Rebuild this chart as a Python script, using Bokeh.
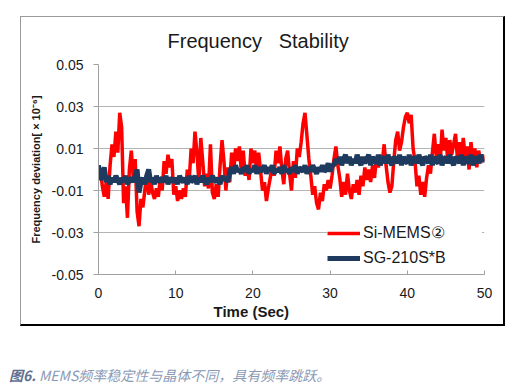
from bokeh.plotting import figure
from bokeh.models import (Legend, LegendItem, FixedTicker, NumeralTickFormatter, Range1d,
                          ColumnDataSource, Title, Div)
from bokeh.layouts import column
from bokeh.embed import file_html
from bokeh.resources import INLINE

# ---------------- data (values in units of 0.001, one sample every 0.25 s) ----------------
sample_step_s = 0.25
si_mems_milli = [
    -3, 0, -8, -13, -6, -14, 2, 12, 6, 18, 8, 27, 20, -16, -8, -23, 0, 9, -4, 5,
    -20, -27, -14, -18, -10, -2, -12, -5, -11, -14, -9, -13, -4, -10, 4, -2, 7, 1, 5, -12,
    -8, -15, -10, -14, -9, -13, 0, -5, 10, 3, 18, 8, -6, 15, 4, -8, -2, -9, 12, -11,
    -14, -7, -13, 2, 14, 4, -10, 1, -6, 8, -2, 10, 4, 11, -1, 9, -3, 2, -5, 10,
    3, 9, -2, 8, -1, -10, -6, -15, -9, -4, 2, -3, 9, 3, 11, 0, -7, 5, 9, -2,
    -10, 4, -4, 10, 6, 13, 22, 27, 16, 5, -3, -12, -8, -16, -19, -11, -15, -7, -10, -5,
    -9, -3, 5, 11, 2, -4, -13, -6, -12, -2, -10, -14, -7, -11, -5, -12, -3, -8, 1, -5,
    0, -6, 2, -4, 5, 1, 7, 3, 12, 2, -6, -11, -8, 4, 14, 18, 9, 13, 20, 25,
    27, 22, 26, 10, 4, -8, -3, -12, -6, -13, -4, 2, -2, 8, 17, 6, 12, 3, 19, 9,
    15, 4, 14, 7, 12, 17, 5, 13, 3, 15, 6, 11, 0, 13, 4, 10, 1, 9, 3, 7,
    4,
]
sg210_milli = [
    2, -5, -3, 1, -6, -3, -7, -4, -6, -3,
    -5, -7, -4, -6, -3, -7, -5, -4, -6, -3,
    0, -11, -6, -4, -7, -3, 0, -6, -4, -7,
    -3, -6, -5, -4, -6, -3, -7, -4, -5, -6,
    -4, -7, -3, -5, -6, -4, -7, -3, -6, -5,
    -3, -7, -4, -6, -3, -5, -7, -4, -6, -3,
    -5, -6, -4, -7, -3, -5, -4, -6,
    -1, 1, -2, 2, -1, 0, -2, 1, -1, 2,
    -2, 0, -1, 2, -2, 1, -1, 0, 2, -2,
    1, -1, 2, -2, 0, -1, 1, -2, 2, -1,
    0, -2, 1, -1, 2, -2, 1, 0, -1, 2,
    -2, 1, -1, 2, 0, -2, 1, -1, 2, -1,
    0, 3, -1, 2,
    2, 5, 3, 6, 2, 5, 7, 3, 6, 2,
    5, 3, 7, 4, 2, 6, 3, 5, 7, 2,
    6, 4, 3, 7, 2, 5, 6, 3, 7, 4,
    2, 6, 5, 3, 7, 2, 6, 4, 3, 7,
    2, 5, 6, 3, 7, 4, 2, 6, 5, 3,
    7, 2, 6, 4, 3, 7, 2, 5, 6, 3,
    7, 4, 2, 6, 5, 3, 7, 2, 6, 4,
    3, 7, 2, 5, 6, 3, 7, 4, 5,
]
series_names = ["Si-MEMS\u2461", "SG-210S*B"]
y_ticks = [-0.05, -0.03, -0.01, 0.01, 0.03, 0.05]
x_ticks = [0, 10, 20, 30, 40, 50]
title_text = "Frequency\u00a0\u00a0\u00a0Stability"
x_label = "Time (Sec)"
y_label = "Frequency deviation[ \u00d7 10\u207b\u2076]"
caption_bold = "图6."
caption_rest = " MEMS频率稳定性与晶体不同，具有频率跳跃。"

time_s = [i * sample_step_s for i in range(len(si_mems_milli))]
si_mems = [v / 1000 for v in si_mems_milli]
sg210 = [v / 1000 for v in sg210_milli]

W, H = 485, 310
FONT = "Liberation Sans"

p = figure(width=W, height=H, x_range=Range1d(0, 50), y_range=Range1d(-0.05, 0.05),
           output_backend="svg", toolbar_location=None,
           min_border_left=77, min_border_right=22, min_border_top=47, min_border_bottom=53)
p.background_fill_color = "white"
p.border_fill_color = "white"
p.outline_line_color = None
p.margin = (16, 0, 0, 20)
p.styles = {"border-left": "1px solid #9a9a9a", "border-top": "1px solid #9a9a9a",
            "border-right": "2px solid #000000", "border-bottom": "2px solid #000000"}

# title
p.title.text = title_text
p.title.align = "left"
p.title.vertical_align = "top"
p.title.offset = 69
p.title.text_font = FONT
p.title.text_font_size = "20px"
p.title.text_font_style = "normal"
p.title.text_color = "#1a1a1a"
p.title.standoff = 22

src = ColumnDataSource(dict(t=time_s, a=si_mems, b=sg210))
r1 = p.line("t", "a", source=src, line_color="#ff0000", line_width=3.5)
r2 = p.line("t", "b", source=src, line_color="#1f3a5f", line_width=5)

# axes
p.xaxis.ticker = FixedTicker(ticks=x_ticks)
p.yaxis.ticker = FixedTicker(ticks=y_ticks)
p.yaxis.formatter = NumeralTickFormatter(format="0.00")
for ax in (p.xaxis[0], p.yaxis[0]):
    ax.axis_line_color = "#a0a0a0"
    ax.major_tick_line_color = "#a0a0a0"
    ax.minor_tick_line_color = None
    ax.major_label_text_font = FONT
    ax.major_label_text_font_size = "14px"
    ax.major_label_text_color = "#1a1a1a"
p.yaxis.major_tick_out = 5
p.yaxis.major_tick_in = 0
p.yaxis.major_label_standoff = 10
p.yaxis.axis_label = y_label
p.yaxis.axis_label_text_font = FONT
p.yaxis.axis_label_text_font_size = "11px"
p.yaxis.axis_label_text_font_style = "bold"
p.yaxis.axis_label_text_color = "#1a1a1a"
p.yaxis.axis_label_standoff = 7
p.xaxis.major_tick_out = 0
p.xaxis.major_tick_in = 4
p.xaxis.major_label_standoff = 13

# x axis label, centred under the chart area like the reference
p.add_layout(Title(text=x_label, align="left", offset=115, standoff=0, text_font=FONT,
                   text_font_size="15px", text_font_style="bold", text_color="#1a1a1a"), "below")

p.xgrid.grid_line_color = None
p.ygrid.grid_line_color = "#b4b4b4"
p.ygrid.grid_line_width = 1

# legend
legend = Legend(items=[LegendItem(label=series_names[0], renderers=[r1]),
                       LegendItem(label=series_names[1], renderers=[r2])],
                location=(229, 7), orientation="vertical",
                glyph_width=33, glyph_height=16, label_height=16, label_width=119, spacing=7,
                label_standoff=3, padding=0, margin=0,
                border_line_color=None, background_fill_color="white", background_fill_alpha=1,
                label_text_font=FONT, label_text_font_size="16px", label_text_color="#1a1a1a")
p.add_layout(legend, "center")

caption = Div(text='<span style="font-weight:bold;color:#5f7090">' + caption_bold + '</span>' + caption_rest,
              width=500, margin=(39, 0, 0, 9),
              styles={"font-family": "Noto Sans CJK SC", "font-size": "14px", "font-style": "italic",
                      "color": "#8a9ab6", "white-space": "nowrap"})

layout = column(p, caption)
open("out.html", "w").write(file_html(layout, INLINE))
